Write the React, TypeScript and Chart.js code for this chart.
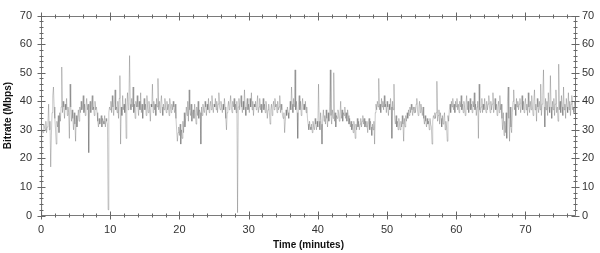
import React, { useEffect, useRef } from "react";
import { Chart, registerables } from "chart.js";

Chart.register(...registerables);

// sampling step of the recording (minutes per sample)
const SAMPLE_STEP_MIN = 0.1;

// Bitrate samples (Mbps), ten samples per minute
const bitrateMin00to09 = [
  0, 28, 30, 29, 32, 31, 30, 33, 29, 31,
  32, 39, 30, 33, 17, 28, 36, 42, 45, 38,
  34, 30, 25, 33, 31, 35, 29, 36, 33, 38,
  52, 36, 40, 38, 34, 39, 37, 41, 35, 38,
  36, 27, 46, 38, 33, 37, 34, 30, 36, 32,
  26, 35, 31, 34, 37, 33, 38, 36, 40, 37,
  38, 42, 36, 39, 35, 38, 41, 37, 39, 22,
  38, 40, 36, 39, 42, 37, 38, 35, 40, 37,
  38, 36, 33, 31, 34, 32, 33, 35, 31, 34,
  33, 32, 35, 31, 34, 33, 32, 2, 36, 38,
];
const bitrateMin10to19 = [
  37, 40, 36, 42, 38, 35, 39, 44, 37, 38,
  36, 40, 34, 41, 49, 25, 38, 35, 42, 37,
  39, 36, 41, 27, 38, 43, 37, 40, 56, 39,
  37, 41, 38, 45, 36, 39, 34, 40, 38, 42,
  38, 35, 40, 37, 43, 36, 39, 34, 38, 41,
  37, 39, 35, 42, 38, 36, 40, 37, 33, 39,
  38, 46, 36, 40, 37, 39, 35, 41, 38, 48,
  37, 40, 36, 39, 42, 38, 35, 39, 37, 41,
  38, 36, 40, 37, 39, 35, 41, 38, 36, 39,
  37, 40, 38, 36, 39, 34, 30, 26, 29, 31,
];
const bitrateMin20to29 = [
  28, 32, 25, 30, 27, 33, 29, 36, 31, 34,
  38, 35, 40, 33, 44, 37, 35, 39, 33, 36,
  37, 34, 39, 36, 32, 38, 35, 40, 34, 37,
  36, 25, 38, 35, 39, 37, 36, 40, 38, 35,
  39, 37, 41, 36, 38, 40, 37, 42, 38, 36,
  39, 38, 41, 37, 40, 36, 39, 43, 38, 37,
  40, 38, 36, 39, 37, 41, 38, 34, 30, 36,
  38, 40, 37, 39, 42, 38, 36, 40, 38, 41,
  37, 39, 36, 40, 1, 38, 41, 37, 39, 42,
  38, 36, 40, 37, 44, 38, 35, 39, 41, 37,
];
const bitrateMin30to39 = [
  39, 36, 41, 38, 43, 37, 40, 35, 39, 38,
  40, 37, 39, 42, 36, 38, 41, 37, 39, 36,
  38, 41, 37, 39, 36, 40, 38, 34, 37, 39,
  36, 32, 37, 39, 35, 38, 40, 37, 41, 38,
  39, 36, 40, 37, 38, 42, 36, 39, 37, 35,
  34, 36, 29, 33, 37, 35, 38, 36, 34, 37,
  40, 37, 45, 39, 36, 41, 38, 51, 37, 40,
  36, 27, 39, 42, 37, 40, 35, 38, 41, 37,
  39, 37, 40, 36, 38, 34, 32, 30, 33, 31,
  30, 32, 29, 33, 31, 30, 34, 32, 30, 33,
];
const bitrateMin40to49 = [
  31, 46, 33, 30, 36, 32, 25, 34, 37, 33,
  35, 32, 37, 34, 31, 36, 33, 38, 51, 35,
  32, 37, 34, 50, 33, 36, 31, 35, 34, 37,
  36, 33, 35, 40, 34, 37, 33, 36, 35, 38,
  34, 36, 33, 37, 35, 32, 34, 31, 33, 30,
  32, 29, 33, 31, 27, 32, 30, 34, 31, 33,
  30, 32, 34, 31, 33, 35, 32, 34, 31, 33,
  31, 33, 29, 32, 34, 30, 33, 31, 28, 32,
  30, 33, 25, 36, 39, 37, 40, 38, 48, 37,
  39, 36, 41, 38, 40, 37, 42, 38, 39, 36,
];
const bitrateMin50to59 = [
  40, 38, 35, 39, 37, 41, 38, 27, 40, 37,
  46, 34, 32, 35, 31, 33, 30, 34, 32, 30,
  33, 31, 35, 32, 26, 34, 31, 35, 33, 36,
  34, 37, 35, 38, 36, 39, 37, 35, 38, 36,
  38, 36, 39, 41, 37, 35, 38, 40, 36, 39,
  37, 35, 38, 34, 32, 35, 33, 31, 34, 32,
  33, 30, 34, 32, 31, 25, 33, 35, 34, 36,
  34, 36, 47, 33, 35, 37, 32, 36, 34, 31,
  35, 32, 34, 36, 30, 33, 31, 26, 35, 33,
  37, 39, 36, 40, 38, 41, 37, 39, 36, 40,
];
const bitrateMin60to69 = [
  38, 41, 37, 39, 36, 40, 38, 42, 37, 39,
  36, 40, 38, 35, 39, 42, 37, 40, 36, 38,
  41, 37, 39, 36, 40, 38, 43, 37, 39, 35,
  38, 40, 27, 46, 37, 36, 38, 41, 36, 39,
  37, 41, 38, 36, 40, 37, 39, 42, 38, 36,
  40, 37, 39, 43, 36, 38, 41, 37, 39, 35,
  38, 40, 36, 42, 37, 39, 34, 30, 36, 28,
  33, 29, 36, 27, 40, 45, 34, 26, 38, 31,
  29, 36, 40, 44, 37, 39, 35, 41, 38, 40,
  37, 39, 41, 36, 38, 42, 37, 40, 36, 39,
];
const bitrateMin70to77 = [
  41, 37, 39, 35, 43, 38, 36, 40, 37, 42,
  38, 35, 40, 44, 37, 39, 33, 41, 38, 36,
  40, 37, 46, 35, 39, 42, 51, 38, 31, 41,
  37, 40, 35, 43, 38, 36, 49, 38, 34, 40,
  37, 41, 35, 39, 44, 36, 38, 33, 53, 37,
  40, 36, 42, 38, 35, 45, 37, 39, 34, 41,
  38, 36, 43, 37, 40, 35, 39, 42, 37, 38,
  36, 40, 38, 37,
];

const X_MAX_MIN = 77.3;
const X_TICKS = [0, 10, 20, 30, 40, 50, 60, 70];
const Y_TICKS = [0, 10, 20, 30, 40, 50, 60, 70];
const X_TITLE = "Time (minutes)";
const Y_TITLE = "Bitrate (Mbps)";

export default function App() {
  const ref = useRef<HTMLCanvasElement>(null);

  useEffect(() => {
    document.body.style.margin = "0";
    const canvas = ref.current;
    if (!canvas) return;

    const values = [
      ...bitrateMin00to09,
      ...bitrateMin10to19,
      ...bitrateMin20to29,
      ...bitrateMin30to39,
      ...bitrateMin40to49,
      ...bitrateMin50to59,
      ...bitrateMin60to69,
      ...bitrateMin70to77,
    ];
    const points = values.map((v, i) => ({ x: Math.round(i * SAMPLE_STEP_MIN * 10) / 10, y: v }));

    const tickFont = { family: "'Liberation Sans', Arial, sans-serif", size: 11 };
    const titleFont = { family: "'Liberation Sans', Arial, sans-serif", size: 10, weight: "bold" as const };

    const framePlugin = {
      id: "frameTicks",
      afterDatasetsDraw(chart: any) {
        const { ctx, chartArea: a, scales } = chart;
        const L = Math.round(a.left) + 0.5;
        const R = Math.round(a.right) - 0.5;
        const T = Math.round(a.top) + 0.5;
        const B = Math.round(a.bottom) - 0.5;
        ctx.save();
        ctx.strokeStyle = "#7a7a7a";
        ctx.lineWidth = 1;
        ctx.beginPath();
        ctx.rect(L, T, R - L, B - T);
        ctx.stroke();
        ctx.strokeStyle = "#666";
        ctx.beginPath();
        for (let v = 0; v <= X_MAX_MIN; v += 2) {
          const px = Math.round(scales.x.getPixelForValue(v)) + 0.5;
          const major = X_TICKS.includes(v);
          const h = major ? 4 : 2;
          ctx.moveTo(px, B - h);
          ctx.lineTo(px, B + h);
          ctx.moveTo(px, T - h);
          ctx.lineTo(px, T + h);
        }
        for (let v = 0; v <= 70; v += 2) {
          const py = Math.round(scales.y.getPixelForValue(v)) + 0.5;
          const major = Y_TICKS.includes(v);
          const w = major ? 4 : 2;
          ctx.moveTo(L - w, py);
          ctx.lineTo(L + w, py);
          ctx.moveTo(R - w, py);
          ctx.lineTo(R + w, py);
        }
        ctx.stroke();
        ctx.restore();
      },
    };

    const chart = new Chart(canvas, {
      type: "line",
      data: {
        datasets: [
          {
            data: points,
            borderColor: "rgba(70,70,70,0.42)",
            borderWidth: 0.7,
            pointRadius: 0,
            tension: 0,
            fill: false,
          },
        ],
      },
      options: {
        responsive: false,
        animation: false,
        layout: { padding: 0 },
        plugins: { legend: { display: false }, tooltip: { enabled: false } },
        scales: {
          x: {
            type: "linear",
            min: 0,
            max: X_MAX_MIN,
            grid: { display: false, drawTicks: false },
            border: { display: false },
            afterBuildTicks: (s: any) => {
              s.ticks = X_TICKS.map((v) => ({ value: v }));
            },
            afterFit: (s: any) => {
              s.height = 253 - 215.5;
            },
            ticks: { font: tickFont, color: "#333", padding: 8, maxRotation: 0 },
            title: { display: true, text: X_TITLE, font: titleFont, color: "#111", padding: { top: 0, bottom: 2 } },
          },
          y: {
            position: "left",
            min: 0,
            max: 70,
            grid: { display: false, drawTicks: false },
            border: { display: false },
            afterBuildTicks: (s: any) => {
              s.ticks = Y_TICKS.map((v) => ({ value: v }));
            },
            afterFit: (s: any) => {
              s.width = 41;
            },
            ticks: { font: tickFont, color: "#333", padding: 9 },
            title: { display: true, text: Y_TITLE, font: titleFont, color: "#111", padding: { top: 2.4, bottom: 0 } },
          },
          y2: {
            position: "right",
            min: 0,
            max: 70,
            grid: { display: false, drawTicks: false },
            border: { display: false },
            afterBuildTicks: (s: any) => {
              s.ticks = Y_TICKS.map((v) => ({ value: v }));
            },
            afterFit: (s: any) => {
              s.width = 24;
            },
            ticks: { font: tickFont, color: "#333", padding: 6 },
          },
        },
      },
      plugins: [
        framePlugin,
        {
          id: "topPad",
          beforeLayout(chart: any) {
            chart.options.layout.padding = { top: 6, left: 0, right: 0, bottom: 0 };
          },
        },
      ],
    });

    return () => chart.destroy();
  }, []);

  return (
    <div style={{ position: "fixed", left: 0, top: 0, width: 600, height: 253, background: "#fff" }}>
      <canvas ref={ref} width={600} height={253} style={{ display: "block" }} />
    </div>
  );
}
